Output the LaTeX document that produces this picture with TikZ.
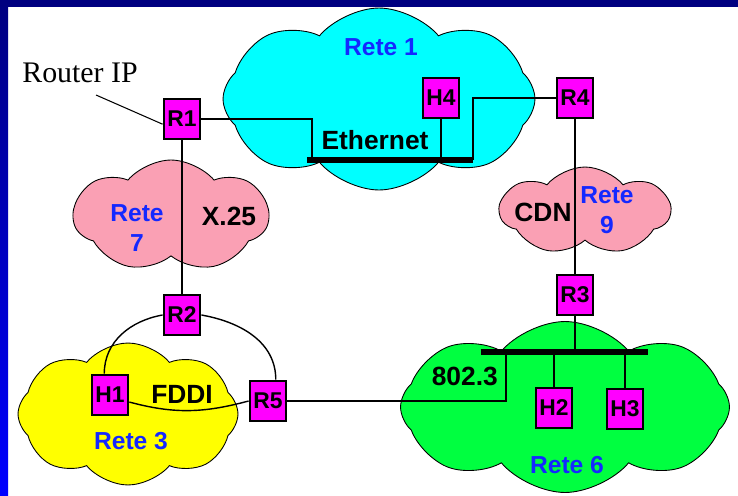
\documentclass[tikz,border=0pt]{standalone}
\usepackage{fontspec}
\setmainfont{Liberation Serif}
\setsansfont{Liberation Sans}
\usetikzlibrary{shapes.symbols}

\definecolor{cyancloud}{RGB}{0,255,255}
\definecolor{pinkcloud}{RGB}{250,160,180}
\definecolor{yellowcloud}{RGB}{255,255,0}
\definecolor{greencloud}{RGB}{0,255,64}
\definecolor{boxmag}{RGB}{255,0,255}
\definecolor{retetext}{RGB}{20,40,255}
\definecolor{frametop}{RGB}{0,0,128}
\definecolor{framebot}{RGB}{0,0,255}

\begin{document}
\begin{tikzpicture}[x=0.02cm, y=-0.02cm, rete/.style={cloud, draw, line width=0.5pt, cloud puffs=8, cloud puff arc=100, cloud ignores aspect, inner sep=0pt}, box/.style={draw, line width=1.6pt, fill=boxmag, minimum width=0.72cm, minimum height=0.8cm, inner sep=0pt, font=\sffamily\bfseries\fontsize{13}{13}\selectfont}, n/.style={line width=0.8pt}, bus/.style={line width=3pt}, lab/.style={font=\sffamily\bfseries\fontsize{15}{15}\selectfont}, nome/.style={text=retetext, align=center, font=\sffamily\bfseries\fontsize{14}{17}\selectfont}]
            \useasboundingbox (0,0) rectangle (738,495);
            % frame
            \fill[white] (0,0) rectangle (738,495);
            \shade[top color=frametop, bottom color=framebot] (0,0) rectangle (8,495);
            \fill[frametop] (0,0) rectangle (738,7);
            % clouds
            \node[rete, fill=cyancloud, minimum width=6.24cm, minimum height=3.64cm] (rete1) at (379,99) {};
            \node[rete, fill=pinkcloud, cloud puffs=7, minimum width=3.9cm, minimum height=2.24cm] (rete7) at (171,216) {};
            \node[rete, fill=pinkcloud, cloud puffs=7, minimum width=3.4cm, minimum height=1.76cm] (rete9) at (585,211) {};
            \node[rete, fill=yellowcloud, minimum width=4.4cm, minimum height=2.84cm] (rete3) at (128,414) {};
            \node[rete, fill=greencloud, minimum width=6.58cm, minimum height=3.42cm] (rete6) at (565,407) {};
            % buses
            \coordinate (ethL) at (307,160);
            \coordinate (ethR) at (473,160);
            \coordinate (ethA) at (312,160);
            \coordinate (b6L) at (481,352);
            \coordinate (b6R) at (648,352);
            \coordinate (b6A) at (506,352);
            \draw[bus] (ethL) -- (ethR);
            \draw[bus] (b6L) -- (b6R);
            % boxes
            \node[box] (R1) at (182,119) {R1};
            \node[box] (H4) at (441,98) {H4};
            \node[box] (R4) at (575,98) {R4};
            \node[box] (R2) at (182,315) {R2};
            \node[box] (R3) at (575,295) {R3};
            \node[box] (H1) at (110,395) {H1};
            \node[box] (R5) at (268,401) {R5};
            \node[box] (H2) at (554,408) {H2};
            \node[box] (H3) at (625,409) {H3};
            % links
            \draw[n] (R1.east) -| (ethA);
            \draw[n] (H4.south) -- (H4.south |- ethL);
            \draw[n] (R4.west) -| (ethR);
            \draw[n] (R1) -- (R2);
            \draw[n] (R4) -- (R3);
            \draw[n] (R3.south) -- (R3.south |- b6L);
            \draw[n] (H2.north) -- (H2.north |- b6L);
            \draw[n] (H3.north) -- (H3.north |- b6L);
            \draw[n] (R5.east) -| (b6A);
            % FDDI ring
            \draw[n] (R2.west) to[out=190, in=90] (H1.105);
            \draw[n] (R2.east) to[out=-10, in=90] (R5.70);
            \draw[n] (H1.-20) to[out=-15, in=195] (R5.west);
            % labels
            \node[nome] (t1) at (381,47) {Rete 1};
            \node[nome] (t7) at (137,228) {Rete\\7};
            \node[nome] (t9) at (607,210) {Rete\\9};
            \node[nome] (t3) at (131,441) {Rete 3};
            \node[nome] (t6) at (567,465) {Rete 6};
            \node[lab] (eth) at (375,140) {Ethernet};
            \node[lab] (x25) at (229,216) {X.25};
            \node[lab] (cdn) at (543,212) {CDN};
            \node[lab] (fddi) at (182,394) {FDDI};
            \node[lab, anchor=east] (ieee) at (504,376) {802.3};
            \node[font=\fontsize{17}{17}\selectfont] (rip) at (80,73) {Router IP};
            \coordinate (riptail) at (96,95);
            \draw[line width=0.6pt] (riptail) -- (R1.195);
        \end{tikzpicture}
\end{document}
